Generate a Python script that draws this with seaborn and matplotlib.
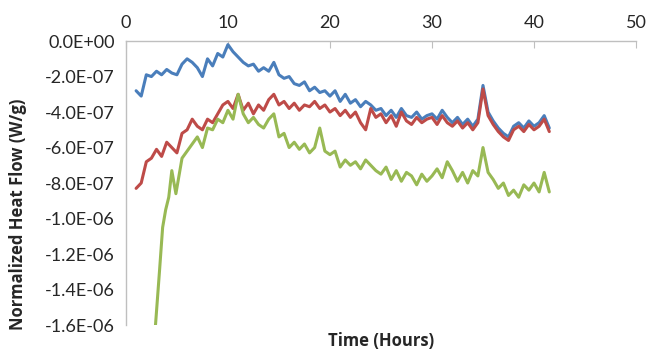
import numpy as np
import pandas as pd
import seaborn as sns
import matplotlib.pyplot as plt
from matplotlib.ticker import FuncFormatter, MultipleLocator

# Time in hours, heat flow values (units of 1E-07 W/g)
hours = [1.0, 1.5, 2.0, 2.5, 3.0, 3.5, 4.0, 4.5, 5.0, 5.5, 6.0, 6.5, 7.0, 7.5, 8.0, 8.5,
         9.0, 9.5, 10.0, 10.5, 11.0, 11.5, 12.0, 12.5, 13.0, 13.5, 14.0, 14.5, 15.0, 15.5,
         16.0, 16.5, 17.0, 17.5, 18.0, 18.5, 19.0, 19.5, 20.0, 20.5, 21.0, 21.5, 22.0, 22.5,
         23.0, 23.5, 24.0, 24.5, 25.0, 25.5, 26.0, 26.5, 27.0, 27.5, 28.0, 28.5, 29.0, 29.5,
         30.0, 30.5, 31.0, 31.5, 32.0, 32.5, 33.0, 33.5, 34.0, 34.5, 35.0, 35.5, 36.0, 36.5,
         37.0, 37.5, 38.0, 38.5, 39.0, 39.5, 40.0, 40.5, 41.0, 41.5]

blue = [-2.8, -3.1, -1.9, -2.0, -1.7, -1.9, -1.6, -1.8, -1.9, -1.3, -1.0, -1.2, -1.5, -2.0,
        -1.0, -1.4, -0.7, -0.9, -0.2, -0.6, -0.9, -1.2, -1.4, -1.3, -1.7, -1.5, -1.7, -1.2,
        -1.9, -2.1, -2.0, -2.4, -2.5, -2.3, -2.8, -2.6, -2.9, -2.8, -3.1, -2.8, -3.4, -3.0,
        -3.5, -3.3, -3.7, -3.4, -3.6, -3.9, -3.8, -4.2, -3.9, -4.3, -3.8, -4.2, -4.3, -4.0,
        -4.4, -4.2, -4.1, -4.4, -3.9, -4.3, -4.6, -4.3, -4.7, -4.4, -4.8, -4.4, -2.5, -4.0,
        -4.5, -4.9, -5.2, -5.4, -4.8, -4.6, -4.9, -4.5, -4.8, -4.6, -4.2, -4.9]

red = [-8.3, -8.0, -6.8, -6.6, -6.1, -6.5, -5.7, -6.0, -6.3, -5.2, -5.0, -4.4, -4.8, -5.0,
       -4.4, -4.6, -4.1, -3.6, -3.4, -3.8, -3.0, -3.9, -3.5, -4.1, -3.6, -3.9, -3.3, -3.0,
       -3.6, -3.4, -3.8, -3.5, -3.9, -3.6, -3.7, -3.4, -3.8, -3.6, -4.0, -3.8, -4.2, -3.9,
       -4.3, -4.0, -4.6, -5.0, -3.8, -4.3, -4.1, -4.6, -4.2, -4.8, -4.0, -4.5, -4.7, -4.3,
       -4.6, -4.4, -4.3, -4.7, -4.2, -4.6, -4.8, -4.5, -4.9, -4.6, -5.0, -4.6, -2.7, -4.2,
       -4.7, -5.1, -5.4, -5.6, -5.0, -4.8, -5.1, -4.7, -5.0, -4.8, -4.4, -5.1]

green_hours = [2.9, 3.3, 3.6, 3.9, 4.2, 4.5, 4.9] + hours[9:]
green = [-16.0, -12.9, -10.5, -9.5, -8.8, -7.3, -8.6, -6.6, -6.2, -5.8, -5.4, -6.0, -4.9,
         -5.0, -4.4, -4.6, -3.9, -4.4, -3.0, -4.1, -4.6, -4.3, -4.7, -4.9, -4.4, -4.1, -5.4,
         -5.2, -6.0, -5.7, -6.1, -5.8, -6.3, -6.0, -4.9, -6.2, -6.4, -6.2, -7.1, -6.7, -7.0,
         -6.8, -7.2, -6.7, -7.0, -7.3, -7.5, -7.1, -7.8, -7.3, -7.9, -7.4, -7.6, -8.1, -7.5,
         -7.9, -7.6, -7.2, -7.7, -6.8, -7.3, -7.9, -7.4, -8.0, -7.3, -7.6, -6.0, -7.4, -7.8,
         -8.3, -8.0, -8.7, -8.4, -8.8, -8.1, -8.4, -8.0, -8.5, -7.4, -8.5]

sns.set_style("white")
plt.rcParams['font.family'] = ['Lato', 'DejaVu Sans']

fig = plt.figure(figsize=(6.49, 3.51), dpi=100)
ax = fig.add_axes([0.194, 0.074, 0.786, 0.809])

for vals, t, col in [(blue, hours, '#4a7ebb'), (red, hours, '#be4b48'), (green, green_hours, '#98b954')]:
    sns.lineplot(x=t, y=np.array(vals) * 1e-7, ax=ax, color=col, linewidth=2.2)

ax.set_xlim(0, 50)
ax.set_ylim(-1.6e-6, 0)
ax.xaxis.set_major_locator(MultipleLocator(10))
ax.yaxis.set_major_locator(MultipleLocator(2e-7))
ax.yaxis.set_major_formatter(FuncFormatter(lambda v, p: f"{v:.1E}"))

ax.xaxis.tick_top()
ax.tick_params(axis='x', direction='in', length=5, color='#bfbfbf', labelsize=13, pad=7)
ax.tick_params(axis='y', direction='out', length=5, color='#bfbfbf', labelsize=13, pad=3)
for s in ['right', 'bottom']:
    ax.spines[s].set_visible(False)
for s in ['top', 'left']:
    ax.spines[s].set_color('#bfbfbf')
    ax.spines[s].set_linewidth(1)

lab_font = dict(family=['Open Sans', 'DejaVu Sans'], fontsize=12, fontweight='bold')
ax.xaxis.set_label_position('bottom')
ax.set_xlabel("Time (Hours)", **lab_font)
ax.xaxis.set_label_coords(0.5, -0.025)
ax.set_ylabel("Normalized Heat Flow (W/g)", **lab_font)
ax.yaxis.set_label_coords(-0.194, 0.39)

plt.savefig("out.png", dpi=100)
